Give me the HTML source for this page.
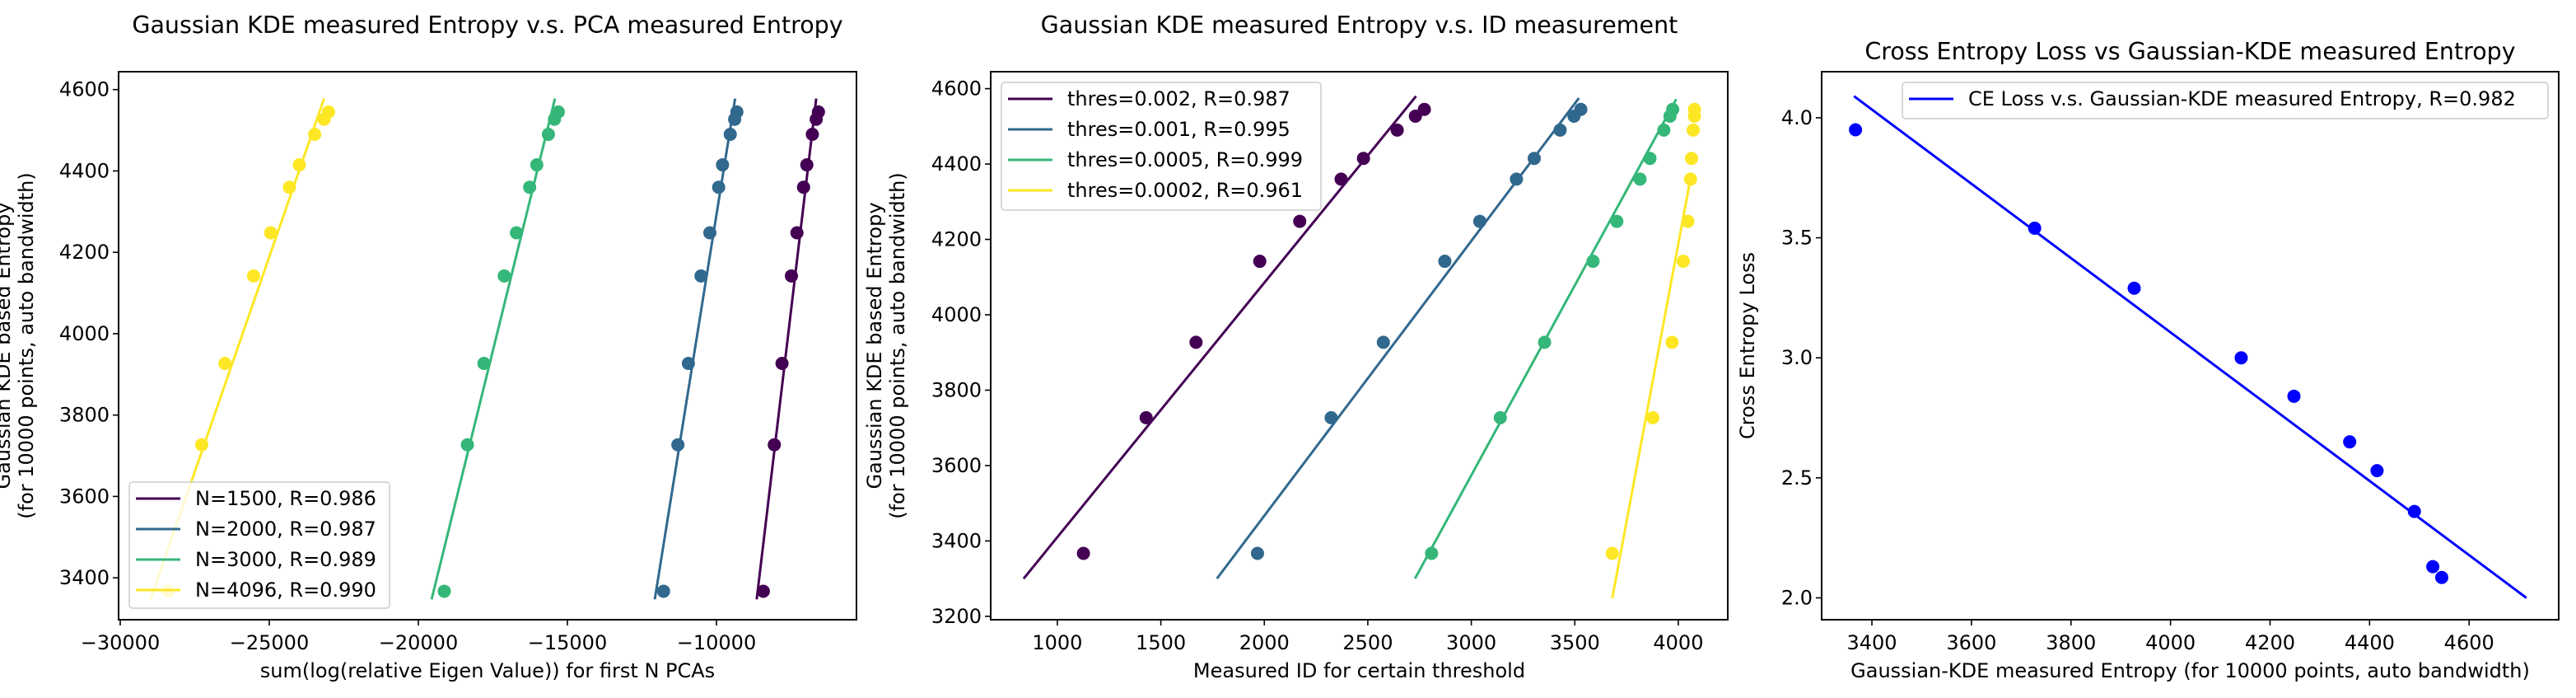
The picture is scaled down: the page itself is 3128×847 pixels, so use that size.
<!DOCTYPE html>
<html><head><meta charset="utf-8">
<style>
html,body{margin:0;padding:0;background:#fff;}
svg{display:block;font-family:"DejaVu Sans","Liberation Sans",sans-serif;}
</style></head>
<body>
<svg id="fig" width="3128" height="847" viewBox="0 0 3128 847" xmlns="http://www.w3.org/2000/svg"></svg>
<script>
// ---- shared data ----
const entropy = [3367, 3727, 3927, 4142, 4248, 4360, 4415, 4490, 4527, 4545];
// Panel 1: PCA measured entropy
const pcaLabels = ["N=1500, R=0.986","N=2000, R=0.987","N=3000, R=0.989","N=4096, R=0.990"];
const pcaN1500 = [-8429,-8060,-7801,-7486,-7301,-7079,-6969,-6784,-6654,-6580];
const pcaN2000 = [-11775,-11294,-10943,-10518,-10222,-9926,-9797,-9538,-9390,-9316];
const pcaN3000 = [-19131,-18355,-17800,-17118,-16710,-16267,-16027,-15638,-15434,-15305];
const pcaN4096 = [-28392,-27265,-26488,-25527,-24954,-24325,-23993,-23475,-23161,-23013];
const pcaFitX0 = [-8651,-12070,-19556,-28983];
const pcaFitX1 = [-6654,-9375,-15416,-23161];
const pcaFitY0 = [3347,3347,3347,3347];
const pcaFitY1 = [4578,4578,4578,4578];
const pcaXTicks = [-30000,-25000,-20000,-15000,-10000];
const entTicksA = [3400,3600,3800,4000,4200,4400,4600];
// Panel 2: ID measurement
const idLabels = ["thres=0.002, R=0.987","thres=0.001, R=0.995","thres=0.0005, R=0.999","thres=0.0002, R=0.961"];
const id002 = [1126,1429,1670,1978,2171,2371,2479,2642,2730,2773];
const id001 = [1967,2323,2575,2872,3041,3218,3304,3429,3496,3529];
const id0005 = [2808,3140,3354,3588,3703,3815,3863,3930,3960,3973];
const id0002 = [3681,3877,3970,4024,4046,4059,4064,4072,4078,4078];
const idFitX0 = [837,1771,2728,3681];
const idFitX1 = [2733,3520,3990,4059];
const idFitY0 = [3300,3300,3300,3248];
const idFitY1 = [4580,4575,4572,4362];
const idXTicks = [1000,1500,2000,2500,3000,3500,4000];
const entTicksB = [3200,3400,3600,3800,4000,4200,4400,4600];
// Panel 3: CE loss
const ceLoss = [3.95,3.54,3.29,3.00,2.84,2.65,2.53,2.36,2.13,2.085];
const ceFitX = [3364,4715];
const ceFitY = [4.09,2.0];
const ceXTicks = [3400,3600,3800,4000,4200,4400,4600];
const ceYTicks = [2.0,2.5,3.0,3.5,4.0];

const viridis = ["#440154","#31688e","#35b779","#fde725"];
const NS = "http://www.w3.org/2000/svg";
const svg = document.getElementById('fig');
function mk(tag, attrs, parent){
  const e = document.createElementNS(NS, tag);
  for (const k in attrs) e.setAttribute(k, attrs[k]);
  (parent||svg).appendChild(e); return e;
}
function txt(s, attrs, parent){ const t = mk('text', attrs, parent); t.textContent = s; return t; }

function panel(cfg){
  const g = mk('g', {});
  
  
  const L=cfg.L,R=cfg.R,T=87,B=752;
  const sx = v => L + (v-cfg.x0)/(cfg.x1-cfg.x0)*(R-L);
  const sy = v => B - (v-cfg.y0)/(cfg.y1-cfg.y0)*(B-T);
  cfg.series.forEach((s,i)=>{
    const ln = mk('line',{x1:sx(s.fx0),y1:sy(s.fy0),x2:sx(s.fx1),y2:sy(s.fy1),stroke:s.color,'stroke-width':3},g);
    
    
    s.xs.forEach((xv,j)=>{
      const c = mk('ellipse',{cx:sx(xv),cy:sy(s.ys[j]),rx:8,ry:8,fill:s.color},g);
      
      
    });
  });
  const frame = mk('rect',{x:L,y:T,width:R-L,height:B-T,fill:'none',stroke:'#000','stroke-width':2},g);
  
  
  cfg.xt.forEach(v=>{
    mk('line',{x1:sx(v),y1:B,x2:sx(v),y2:B+7,stroke:'#000','stroke-width':1.6},g);
    const t = txt(cfg.xfmt(v),{x:sx(v),y:788,'font-size':24,'text-anchor':'middle'},g);
    
    
  });
  cfg.yt.forEach(v=>{
    mk('line',{x1:L,y1:sy(v),x2:L-7,y2:sy(v),stroke:'#000','stroke-width':1.6},g);
    const t = txt(cfg.yfmt(v),{x:L-11,y:sy(v)+8,'font-size':24,'text-anchor':'end'},g);
    
    
  });
  const tt = txt(cfg.title,{x:(L+R)/2,y:cfg.titleY,'font-size':28.5,'text-anchor':'middle'},g);
  
  
  const xl = txt(cfg.xlabel,{x:(L+R)/2,y:822,'font-size':24,'text-anchor':'middle'},g);
  
  
  const cy=(T+B)/2;
  cfg.ylabel.forEach((s,k)=>{
    const yl = txt(s,{x:cfg.ylx[k],y:cy,'font-size':24,'text-anchor':'middle',transform:'rotate(-90 '+cfg.ylx[k]+' '+cy+')'},g);
    
    
  });
  // legend
  const lg = cfg.legend;
  const lgg = mk('g',{},g);
  
  
  mk('rect',{x:lg.x,y:lg.y,width:lg.w,height:lg.h,rx:4,fill:'#fff','fill-opacity':0.8,stroke:'#ccc','stroke-width':1.5},lgg);
  cfg.series.forEach((s,i)=>{
    const ey = lg.y + 20 + i*37;
    mk('line',{x1:lg.x+8,y1:ey,x2:lg.x+62,y2:ey,stroke:s.color,'stroke-width':3},lgg);
    const et = txt(s.label,{x:lg.x+80,y:ey+8,'font-size':24},lgg);
    
    
  });
}

const pcaX=[pcaN1500,pcaN2000,pcaN3000,pcaN4096];
panel({name:'pca-entropy-chart',L:144,R:1040,x0:-30055,x1:-5304,y0:3297,y1:4644,
  title:'Gaussian KDE measured Entropy v.s. PCA measured Entropy',titleY:40,
  xlabel:'sum(log(relative Eigen Value)) for first N PCAs',
  ylabel:['Gaussian KDE based Entropy','(for 10000 points, auto bandwidth)'],ylx:[12,40],
  xt:pcaXTicks,yt:entTicksA,xfmt:v=>String(v).replace('-','\u2212'),yfmt:v=>String(v),
  legend:{x:157,y:585,w:316,h:153},
  series:pcaX.map((xs,i)=>({xs:xs,ys:entropy,color:viridis[i],label:pcaLabels[i],fx0:pcaFitX0[i],fx1:pcaFitX1[i],fy0:pcaFitY0[i],fy1:pcaFitY1[i]}))});

const idX=[id002,id001,id0005,id0002];
panel({name:'id-entropy-chart',L:1203,R:2098,x0:678,x1:4239,y0:3191,y1:4645,
  title:'Gaussian KDE measured Entropy v.s. ID measurement',titleY:40,
  xlabel:'Measured ID for certain threshold',
  ylabel:['Gaussian KDE based Entropy','(for 10000 points, auto bandwidth)'],ylx:[1070,1098],
  xt:idXTicks,yt:entTicksB,xfmt:v=>String(v),yfmt:v=>String(v),
  legend:{x:1216,y:100,w:388,h:155},
  series:idX.map((xs,i)=>({xs:xs,ys:entropy,color:viridis[i],label:idLabels[i],fx0:idFitX0[i],fx1:idFitX1[i],fy0:idFitY0[i],fy1:idFitY1[i]}))});

panel({name:'ce-loss-chart',L:2212,R:3107,x0:3299,x1:4780,y0:1.909,y1:4.192,
  title:'Cross Entropy Loss vs Gaussian-KDE measured Entropy',titleY:72,
  xlabel:'Gaussian-KDE measured Entropy (for 10000 points, auto bandwidth)',
  ylabel:['Cross Entropy Loss'],ylx:[2130],
  xt:ceXTicks,yt:ceYTicks,xfmt:v=>String(v),yfmt:v=>v.toFixed(1),
  legend:{x:2310,y:100,w:784,h:44},
  series:[{xs:entropy,ys:ceLoss,color:'#0000ff',label:'CE Loss v.s. Gaussian-KDE measured Entropy, R=0.982',fx0:ceFitX[0],fx1:ceFitX[1],fy0:ceFitY[0],fy1:ceFitY[1]}]});
</script>
</body></html>
